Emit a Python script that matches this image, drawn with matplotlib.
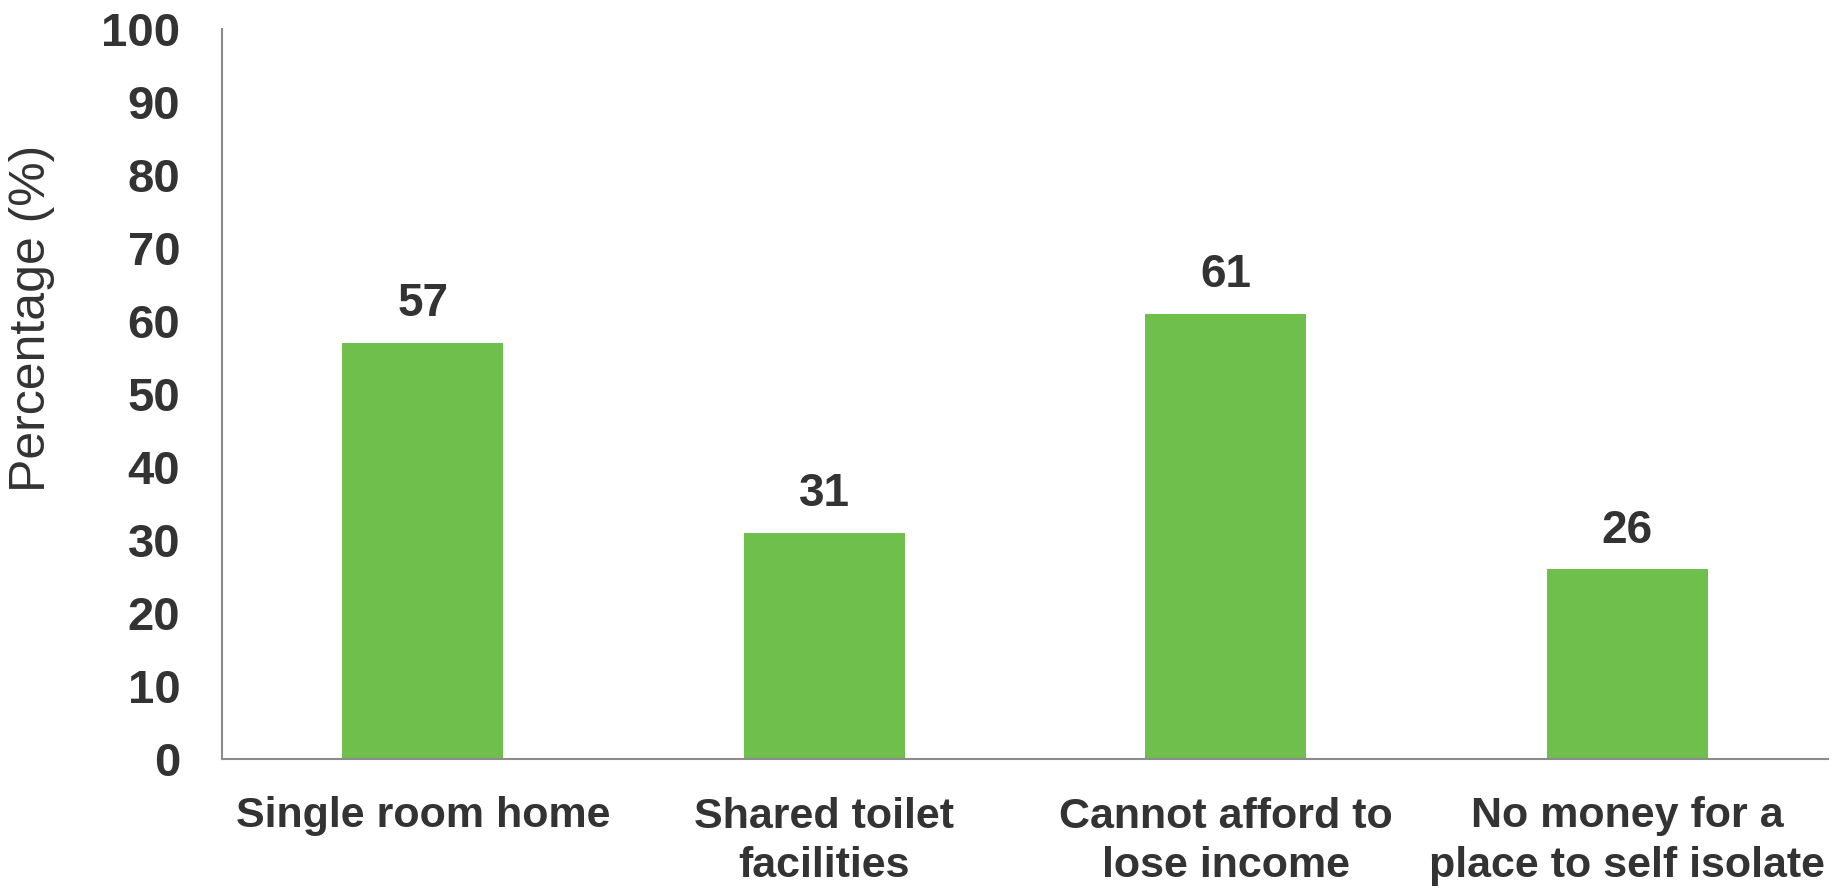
import matplotlib
matplotlib.use("Agg")
import matplotlib.pyplot as plt

categories = ["Single room home", "Shared toilet\nfacilities", "Cannot afford to\nlose income",
              "No money for a\nplace to self isolate"]
values = [57, 31, 61, 26]
yticks = [0, 10, 20, 30, 40, 50, 60, 70, 80, 90, 100]

plt.rcParams['font.family'] = ['Liberation Sans', 'DejaVu Sans']
txt = '#333333'

fig = plt.figure(figsize=(18.43, 8.92), dpi=100)
ax = fig.add_axes([222/1843, 1 - 759/892, (1828-222)/1843, (759-29)/892])

x = list(range(len(categories)))
ax.bar(x, values, width=0.4, color='#6EBF4B', zorder=2)
for xi, v in zip(x, values):
    ax.annotate(str(v), (xi, v), xytext=(0, 12), textcoords='offset points',
                ha='center', va='bottom', fontsize=33, fontweight='bold', color=txt)

ax.set_xlim(-0.5, len(categories) - 0.5)
ax.set_ylim(0, 100)
ax.set_yticks(yticks)
ax.set_yticklabels([str(t) for t in yticks], fontsize=34, fontweight='bold', color=txt)
ax.set_xticks(x)
ax.set_xticklabels(categories, fontsize=31, fontweight='bold', color=txt, linespacing=1.3)
ax.tick_params(axis='y', length=0, pad=30)
ax.tick_params(axis='x', length=0, pad=27)
ax.set_ylabel('Percentage (%)', fontsize=36, color=txt)
ax.yaxis.set_label_coords(-0.104, 0.603)

for s in ['top', 'right']:
    ax.spines[s].set_visible(False)
for s in ['left', 'bottom']:
    ax.spines[s].set_color('#8c8c8c')
    ax.spines[s].set_linewidth(1.5)

fig.savefig('out.png', dpi=100)
